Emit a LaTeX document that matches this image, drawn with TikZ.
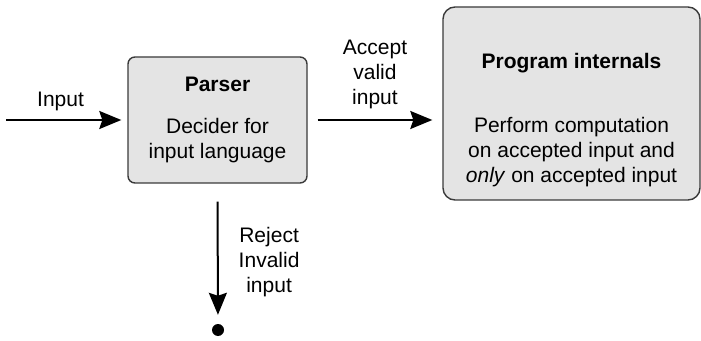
\documentclass[tikz,border=0pt]{standalone}
\usepackage{fontspec}
\setmainfont{Liberation Sans}
\usetikzlibrary{arrows.meta,positioning}
\definecolor{boxgray}{HTML}{E4E4E4}
\definecolor{edgegray}{HTML}{3A3A3A}
\tikzset{box/.style={draw=edgegray,fill=boxgray,line width=1.4pt,rounded corners=7pt,
 align=center,font=\fontsize{21}{25}\selectfont},
 lbl/.style={align=center,font=\fontsize{21}{25}\selectfont,inner sep=0pt},
 arr/.style={-{Stealth[length=22pt,width=18pt,inset=3pt]},line width=2pt,draw=black}}

\begin{document}
\begin{tikzpicture}[x=1pt,y=1pt]
\useasboundingbox (0,0) rectangle (701,340);
\node[box,minimum width=179pt,minimum height=126pt] (parser) at (217.5,220)
 {\textbf{Parser}\\[17pt]Decider for\\input language};
\node[box,rounded corners=12pt,minimum width=257pt,minimum height=193pt] (prog) at (571.5,236.5) {};
\node[lbl] (progtext) at ([yshift=-17pt]prog.center)
 {\textbf{Program internals}\\[39pt]Perform computation\\on accepted input and\\\textit{only} on accepted input};
\coordinate (in) at (6,220);
\node[circle,fill=black,inner sep=0pt,minimum size=12pt] (reject) at (218,10) {};
\draw[arr,shorten >=6pt] (in)--node[lbl,pos=0.45,above=8pt]{Input}(parser.west);
\draw[arr,shorten <=10pt,shorten >=10pt] (parser.east)--node[lbl,above=10pt]{Accept\\valid\\input}(parser.east -| prog.west);
\draw[arr,shorten <=18pt,shorten >=9pt] (parser.south)--node[lbl,right=20pt,yshift=-8pt]{Reject\\Invalid\\input}(reject);
\end{tikzpicture}
\end{document}
